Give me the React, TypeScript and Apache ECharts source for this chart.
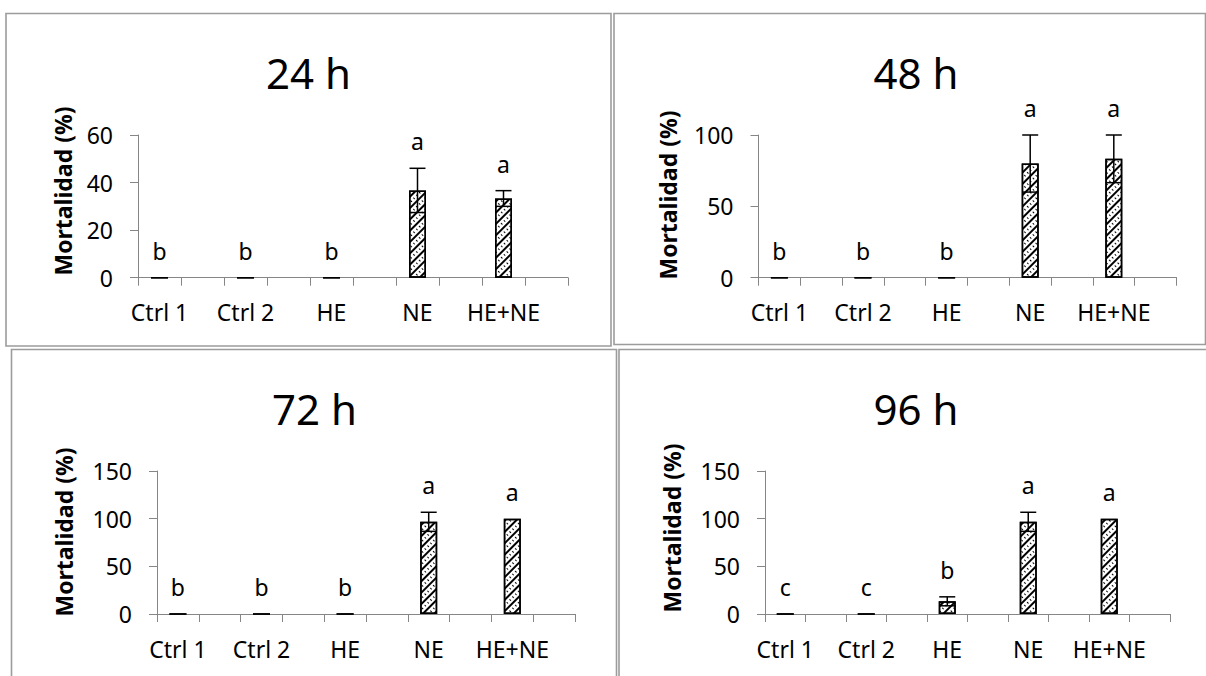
import React, { useEffect, useRef } from "react";
import * as echarts from "echarts";

const categories = ["Ctrl 1", "Ctrl 2", "HE", "NE", "HE+NE"];

const mort24 = [0, 0, 0, 36.7, 33.3];
const err24 = [0, 0, 0, 9.3, 3.3];
const letters24 = ["b", "b", "b", "a", "a"];

const mort48 = [0, 0, 0, 80, 83.3];
const err48 = [0, 0, 0, 20, 16.7];
const letters48 = ["b", "b", "b", "a", "a"];

const mort72 = [0, 0, 0, 96.7, 100];
const err72 = [0, 0, 0, 10, 0];
const letters72 = ["b", "b", "b", "a", "a"];

const mort96 = [0, 0, 13.3, 96.7, 100];
const err96 = [0, 0, 4.7, 10, 0];
const letters96 = ["c", "c", "b", "a", "a"];

const panelTitles = ["24 h", "48 h", "72 h", "96 h"];
const yTitle = "Mortalidad (%)";
const yMax = [60, 100, 150, 150];
const yStep = [20, 50, 50, 50];

const FF = "'Noto Sans', 'Open Sans', 'Liberation Sans', sans-serif";
const AXIS = "#868686";
const BORDER = "#9c9c9c";

// 10 slots: each treatment followed by an empty slot
const slots = categories.flatMap((c) => [c, ""]);
const spread = (vals: number[]) => vals.flatMap((v) => [v, "-"]);

const panels = [
  { vals: mort24, errs: err24, letters: letters24 },
  { vals: mort48, errs: err48, letters: letters48 },
  { vals: mort72, errs: err72, letters: letters72 },
  { vals: mort96, errs: err96, letters: letters96 },
];

const grids = [
  { left: 138, top: 135, width: 430, height: 142.7 },
  { left: 758.5, top: 135, width: 418, height: 142.7 },
  { left: 157, top: 471, width: 418, height: 143 },
  { left: 765, top: 471, width: 405, height: 143 },
];

const titlePos = [
  [308.5, 72],
  [916, 72],
  [314.5, 408],
  [916, 408],
];
const yTitlePos = [
  [62.5, 191],
  [667.5, 195],
  [64, 532],
  [671.5, 528],
];
const borders = [
  [6, 13.5, 605, 332.5],
  [614, 13.5, 591.5, 331],
  [11.5, 349.5, 605, 360],
  [619, 349.5, 600, 360],
];

export default function App() {
  const ref = useRef<HTMLDivElement>(null);
  useEffect(() => {
    if (!ref.current) return;
    const chart = echarts.init(ref.current, null, { renderer: "svg" });

    const decal = {
      symbol: "rect",
      symbolSize: 1,
      color: "#000",
      backgroundColor: "#fff",
      dashArrayX: [[1, 0], [1, 2.5]],
      dashArrayY: [1.2, 1.8],
      rotation: -Math.PI / 4,
    };

    const series: any[] = [];
    panels.forEach((p, i) => {
      series.push({
        type: "bar",
        xAxisIndex: i,
        yAxisIndex: i,
        data: spread(p.vals),
        barWidth: 17,
        itemStyle: {
          color: "#fff",
          borderColor: "#000",
          borderWidth: 1.5,
          decal,
        },
        emphasis: { disabled: true },
      });
      series.push({
        type: "custom",
        xAxisIndex: i,
        yAxisIndex: i,
        z: 5,
        clip: false,
        encode: { x: 0, y: 1 },
        data: p.vals.map((v, k) => [2 * k, v, p.errs[k]]),
        renderItem: (params: any, api: any) => {
          const k = params.dataIndex;
          const x = api.value(0);
          const v = api.value(1);
          const e = api.value(2);
          const top = api.coord([x, v + e]);
          const bot = api.coord([x, v - e]);
          const children: any[] = [];
          if (e > 0) {
            const st = { stroke: "#000", lineWidth: 1.5 };
            children.push({ type: "line", shape: { x1: top[0], y1: top[1], x2: top[0], y2: bot[1] }, style: st });
            children.push({ type: "line", shape: { x1: top[0] - 8, y1: top[1], x2: top[0] + 8, y2: top[1] }, style: st });
            children.push({ type: "line", shape: { x1: bot[0] - 8, y1: bot[1], x2: bot[0] + 8, y2: bot[1] }, style: st });
          }
          children.push({
            type: "text",
            style: {
              text: p.letters[k],
              x: top[0],
              y: top[1] - 27,
              align: "center",
              verticalAlign: "middle",
              fill: "#000",
              fontSize: 23,
              fontFamily: FF,
            },
          });
          return { type: "group", children };
        },
      });
    });

    const graphic: any[] = [];
    borders.forEach((b) => {
      graphic.push({
        type: "rect",
        shape: { x: b[0], y: b[1], width: b[2], height: b[3] },
        style: { fill: "none", stroke: BORDER, lineWidth: 1.6 },
        silent: true,
      });
    });
    panelTitles.forEach((t, i) => {
      graphic.push({
        type: "text",
        x: titlePos[i][0],
        y: titlePos[i][1],
        style: { text: t, align: "center", verticalAlign: "middle", fill: "#000", fontSize: 42, fontFamily: FF },
      });
      graphic.push({
        type: "text",
        x: yTitlePos[i][0],
        y: yTitlePos[i][1],
        rotation: Math.PI / 2,
        style: {
          text: yTitle,
          align: "center",
          verticalAlign: "middle",
          fill: "#000",
          fontSize: 23,
          fontWeight: "bold",
          fontFamily: FF,
        },
      });
    });

    chart.setOption({
      animation: false,
      backgroundColor: "#fff",
      grid: grids.map((g) => ({ ...g, containLabel: false })),
      xAxis: grids.map((_, i) => ({
        type: "category",
        gridIndex: i,
        data: slots,
        boundaryGap: true,
        axisLine: { lineStyle: { color: AXIS, width: 1 } },
        axisTick: { show: true, interval: 0, length: 8, lineStyle: { color: AXIS } },
        axisLabel: { interval: 0, margin: 23, color: "#000", fontSize: 23, fontFamily: FF },
      })),
      yAxis: grids.map((_, i) => ({
        type: "value",
        gridIndex: i,
        min: 0,
        max: yMax[i],
        interval: yStep[i],
        splitLine: { show: false },
        axisLine: { show: true, lineStyle: { color: AXIS, width: 1 } },
        axisTick: { show: true, length: 8, lineStyle: { color: AXIS } },
        axisLabel: { margin: 25, color: "#000", fontSize: 23, fontFamily: FF },
      })),
      series,
      graphic,
    });
    return () => chart.dispose();
  }, []);

  return (
    <div
      ref={ref}
      style={{ position: "fixed", left: 0, top: 0, width: 1206, height: 676, background: "#fff" }}
    />
  );
}
